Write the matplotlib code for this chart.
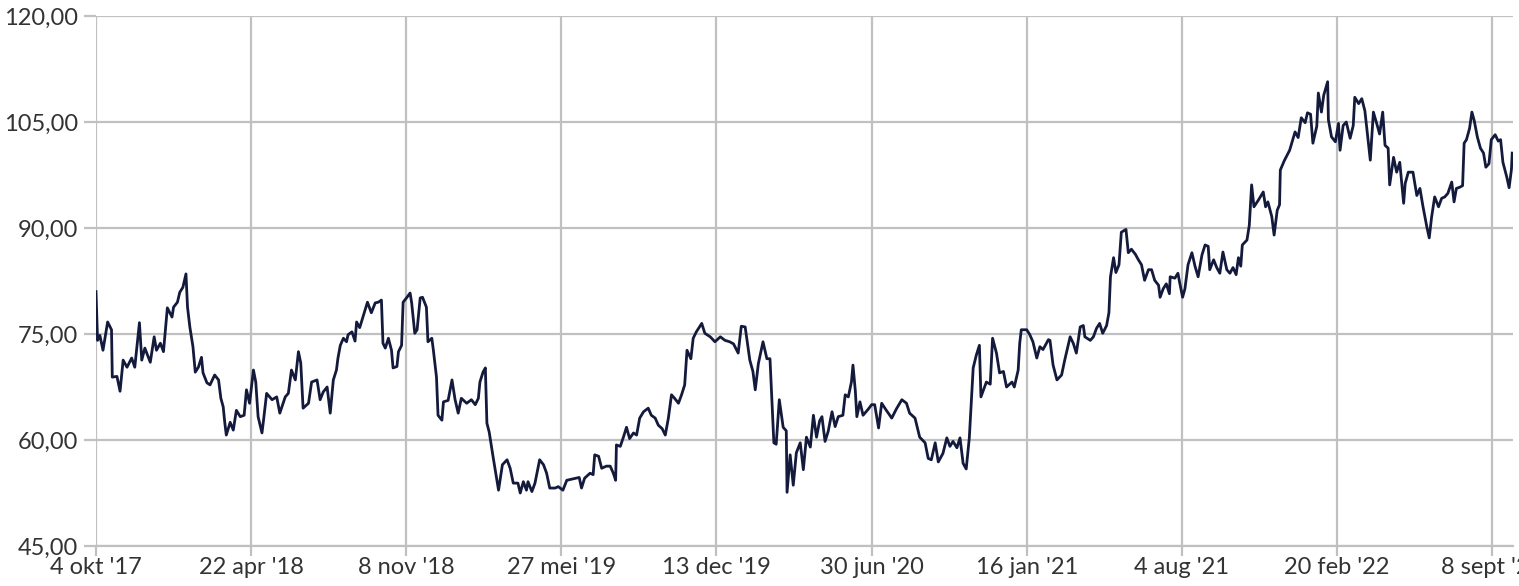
import numpy as np
import pandas as pd
import matplotlib
matplotlib.use("Agg")
import matplotlib.pyplot as plt

# days since 4 okt 2017, koers
days = [0, 2, 5, 9, 15, 20, 21, 27, 31, 35, 40, 46, 50, 56, 59, 63, 70, 75, 78, 83, 87, 92, 98, 100,
        105, 108, 112, 116, 118, 121, 125, 128, 132, 136, 138, 143, 147, 153, 158, 161, 164, 166, 168,
        173, 177, 181, 186, 191, 194, 198, 203, 206, 209, 214, 216, 220, 227, 233, 237, 244, 248, 252,
        257, 261, 264, 267, 274, 278, 285, 289, 293, 298, 302,
        306, 310, 312, 315, 319, 323, 325, 330, 334, 336, 340, 345, 350, 355, 360, 364, 368, 370, 373,
        377, 381, 383, 388, 390, 394, 396, 401, 405, 407, 411, 414, 418, 421, 426, 428, 433, 435, 439,
        441, 446, 448, 454, 459, 463, 467, 471, 478, 484, 489, 493, 495, 499, 502, 504, 507, 512, 517,
        519, 521, 524, 530, 534, 538, 544, 547, 551, 555, 557, 562, 566, 572, 577, 581, 585, 592, 596,
        602, 607, 615, 623,
        626, 630, 637, 641, 643, 648, 652, 658, 663, 667, 670, 671, 676, 680, 684, 688, 693, 697, 701,
        706, 712, 716, 721, 725, 730, 734, 738, 742, 746, 751, 755, 759, 762, 767, 770, 774, 781, 785,
        792, 798, 805, 811, 817, 822, 828, 832, 837, 840, 843, 847, 850, 854, 860, 865, 869, 874, 877,
        881, 886, 890, 891, 895, 899, 903, 908, 912, 916, 921, 925, 929, 933,
        936, 940, 944, 949, 953, 957, 963, 966, 970, 974, 976, 979, 981, 985, 989, 996, 1000, 1004,
        1009, 1013, 1019, 1026, 1032, 1039, 1045, 1049, 1056, 1062, 1069, 1073, 1077, 1082, 1086, 1092,
        1097, 1101, 1105, 1110, 1114, 1118, 1122, 1126, 1131, 1135, 1139, 1141, 1144, 1148, 1153, 1156,
        1161, 1165, 1170, 1174, 1181, 1184, 1189, 1191, 1193, 1200, 1204, 1208, 1213, 1217, 1221, 1228,
        1230, 1234, 1239, 1245, 1249, 1256, 1260, 1264, 1269, 1273, 1275, 1282, 1286, 1290, 1294, 1298,
        1303, 1306, 1308, 1312, 1315, 1319, 1322, 1328, 1331, 1335, 1340, 1344, 1348, 1352, 1357, 1361,
        1365, 1370, 1372, 1376, 1380, 1384, 1385, 1391, 1395, 1397, 1401, 1404, 1408, 1413, 1417, 1421,
        1426, 1430, 1434, 1436, 1441, 1445, 1449, 1453, 1458, 1462, 1466, 1470, 1473, 1476, 1478, 1484,
        1487, 1490, 1493, 1499, 1505, 1508, 1511, 1516, 1519, 1523, 1526, 1527, 1532,
        1539, 1546, 1550, 1554, 1559, 1562, 1566, 1569, 1574, 1576, 1580, 1583, 1588, 1589, 1593, 1598,
        1602, 1604, 1608, 1612, 1617, 1621, 1623, 1628, 1632, 1636, 1643, 1647, 1652, 1655, 1659, 1662,
        1666, 1668, 1673, 1677, 1681, 1686, 1688, 1692, 1698, 1703, 1707, 1711, 1716, 1719, 1722, 1726,
        1731, 1735, 1739, 1743, 1748, 1751, 1754, 1759, 1762, 1764, 1767, 1771, 1774, 1777, 1781, 1785,
        1789, 1792, 1796, 1799, 1804, 1808, 1811, 1814, 1819, 1822, 1825, 1826]

price = [81.0, 74.1, 74.8, 72.7, 76.7, 75.6, 68.9, 69.0, 66.9, 71.3, 70.3, 71.6, 70.3, 76.6, 71.3, 73.0,
         71.0, 74.6, 72.7, 73.7, 72.5, 78.7, 77.4, 78.8, 79.5, 80.9, 81.6, 83.5, 78.8, 76.0, 73.2, 69.6,
         70.3, 71.7, 69.5, 68.1, 67.8, 69.2, 68.5, 65.9, 64.7, 62.5, 60.7, 62.5, 61.4, 64.2, 63.3, 63.5,
         67.1, 65.2, 69.9, 68.2, 63.3, 61.0, 62.8, 66.6, 65.7, 66.1, 63.8, 66.1, 66.6, 69.9, 68.5, 72.5,
         70.9, 64.5, 65.2, 68.2, 68.5, 65.7, 66.8, 67.5, 63.8,
         68.5, 69.9, 71.6, 73.4, 74.4, 73.9, 74.9, 75.3, 74.0, 76.7, 75.9, 77.7, 79.5, 78.0, 79.4, 79.5,
         79.8, 73.7, 73.0, 74.4, 72.7, 70.2, 70.4, 72.5, 73.4, 79.5, 80.2, 80.8, 79.4, 75.1, 75.6, 80.1,
         80.2, 78.8, 73.9, 74.4, 72.7, 68.9, 63.5, 62.8, 65.4, 65.6, 68.5, 65.7, 63.8, 65.9, 65.2, 65.7,
         65.0, 65.9, 68.2, 69.6, 70.2, 62.4, 61.1, 57.6, 54.3, 52.9, 54.3, 56.5, 57.2, 56.0, 53.9, 53.9,
         52.5, 54.1, 52.9, 54.1, 52.7, 53.9, 57.2, 56.5, 55.3, 53.2, 53.2, 53.4, 52.9, 54.3, 54.5, 54.7,
         53.2, 54.6, 55.3, 55.1, 57.9, 57.7, 56.0, 56.3, 56.3, 55.3, 54.3, 59.3, 59.1, 60.4, 61.8, 60.2,
         61.0, 60.7, 63.1, 64.0, 64.5, 63.5, 63.1, 62.1, 61.6, 60.7, 63.1, 66.4, 65.9, 65.2, 66.4, 67.8,
         72.7, 71.5, 74.4, 75.3, 76.5, 75.1, 74.6, 73.9, 74.6, 74.1, 73.9, 73.6, 72.3, 76.1, 76.0, 73.6,
         71.3, 69.7, 67.1, 70.8, 73.9, 71.5, 71.5, 59.6, 59.4, 65.7, 61.8, 61.3, 52.6, 57.9, 53.6, 58.2,
         59.6, 55.8, 60.4, 59.0, 63.5, 60.4, 62.7,
         63.3, 59.8, 61.2, 64.0, 61.9, 63.3, 63.5, 66.4, 66.1, 68.2, 70.6, 67.0, 63.3, 65.4, 63.5, 64.4,
         65.0, 65.0, 61.7, 65.2, 64.2, 63.1, 64.4, 65.7, 65.2, 63.8, 63.1, 60.4, 59.6, 57.4, 57.2, 59.6,
         56.9, 58.1, 60.3, 59.1, 59.8, 58.9, 60.3, 56.7, 55.9, 60.3, 70.2, 72.0, 73.4, 66.1, 67.0, 68.2,
         67.9, 74.4, 72.3, 69.5, 69.7, 67.5, 68.2, 67.5, 69.9, 73.7, 75.6, 75.6, 74.9, 73.9, 71.6, 73.2,
         72.8, 74.2,
         74.1, 70.6, 68.5, 69.2, 71.3, 74.6, 73.7, 72.3, 76.0, 76.2, 74.6, 74.1, 74.6, 75.8, 76.5, 75.1,
         76.2, 78.0, 83.1, 85.8, 83.7, 84.8, 89.4, 89.8, 86.5, 87.0, 86.3, 85.5, 84.8, 82.6, 84.1, 84.1,
         82.6, 81.9, 80.2, 81.4, 82.1, 80.7, 83.1, 82.9, 83.6, 82.4, 80.2, 81.4, 84.8, 86.5, 84.6, 83.1,
         86.2, 87.6, 87.4, 84.1, 85.5, 84.4, 83.6, 86.6, 84.1, 83.6, 84.4, 83.4, 85.8, 84.6, 87.6, 88.3,
         90.4, 96.1, 93.0, 94.0, 95.1, 93.0, 93.7, 91.6, 89.0, 92.5, 93.3, 98.2, 99.5,
         101.0, 103.6, 102.8, 105.6, 104.9, 106.3, 106.1, 102.0, 104.4, 109.1, 106.4, 108.8, 110.7, 105.3,
         102.9, 102.2, 104.8, 101.0, 104.5, 105.0, 102.7, 104.5, 108.5, 107.6, 108.3, 106.6, 99.6, 106.4,
         104.5, 103.3, 106.4, 101.7, 101.3, 96.1, 100.0, 97.9, 99.3, 93.5, 96.3, 97.9, 97.9, 94.6, 95.6,
         93.0, 90.1, 88.6, 91.5, 94.4, 93.0, 94.2, 94.4, 94.9, 96.5, 93.7, 95.6, 95.8, 96.0, 102.0, 102.5,
         104.1, 106.4, 105.2, 102.9, 101.3, 100.6, 98.6, 99.1, 102.5, 103.2, 102.3, 102.5, 99.3, 97.2,
         95.7, 98.3, 100.6]

start = pd.Timestamp("2017-10-04")
tick_days = [0, 200, 400, 600, 800, 1000, 1200, 1400, 1600, 1800]
tick_labels = ["4 okt '17", "22 apr '18", "8 nov '18", "27 mei '19", "13 dec '19",
               "30 jun '20", "16 jan '21", "4 aug '21", "20 feb '22", "8 sept '22"]
y_ticks = [45, 60, 75, 90, 105, 120]
y_labels = ["45,00", "60,00", "75,00", "90,00", "105,00", "120,00"]

plt.rcParams['font.family'] = ['Lato', 'DejaVu Sans']

dates = start + pd.to_timedelta(days, unit="D")
ticks = start + pd.to_timedelta(tick_days, unit="D")

fig = plt.figure(figsize=(15.19, 5.86), dpi=100)
ax = fig.add_axes([96 / 1519, 40 / 586, 1417 / 1519, 530 / 586])

grid_col = "#c0c0c0"
ax.plot(dates, price, color="#141a3c", linewidth=2.0, zorder=3)

ax.set_xlim(start, start + pd.Timedelta(days=1827))
ax.set_ylim(45, 120)
ax.set_xticks(ticks)
ax.set_xticklabels(tick_labels)
ax.set_yticks(y_ticks)
ax.set_yticklabels(y_labels)

ax.grid(True, color=grid_col, linewidth=1.6, zorder=0)
for s in ["top", "right", "left"]:
    ax.spines[s].set_visible(False)
ax.spines["bottom"].set_color(grid_col)
ax.spines["bottom"].set_linewidth(1.6)
ax.tick_params(axis="x", length=7, width=1.6, color=grid_col, labelsize=17,
               labelcolor="#333333", pad=1)
ax.tick_params(axis="y", length=9, width=1.6, color=grid_col, labelsize=17,
               labelcolor="#333333", pad=4)

fig.savefig("out.png", dpi=100)
